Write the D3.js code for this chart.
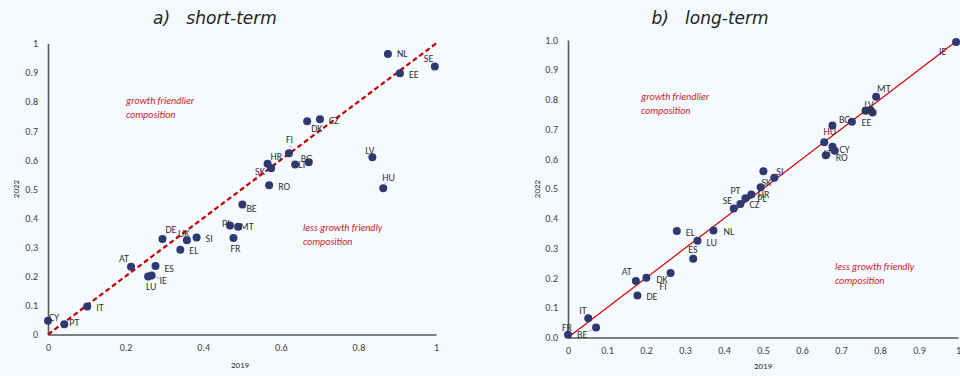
<!DOCTYPE html>
<html><head><meta charset="utf-8">
<script src="https://cdn.jsdelivr.net/npm/d3@7"></script>
<style>
html,body{margin:0;padding:0;background:#f5fafe;}
svg{display:block;}
.tick text{font-family:Carlito,"Liberation Sans Narrow","Liberation Sans",sans-serif;font-size:10px;fill:#404040;}
.lbl{font-family:Carlito,"Liberation Sans Narrow","Liberation Sans",sans-serif;font-size:10px;fill:#333;}
.note{font-family:Carlito,"Liberation Sans Narrow","Liberation Sans",sans-serif;font-size:10px;fill:#d0202a;font-style:italic;}
.ttl{font-family:"DejaVu Sans",sans-serif;font-size:17px;font-style:italic;fill:#222;font-weight:300;}
.axt{font-family:Carlito,"Liberation Sans Narrow","Liberation Sans",sans-serif;font-size:9px;fill:#333;}
</style></head>
<body>
<svg id="c" width="960" height="376"></svg>
<script>
// ---- data: a) short-term ----
const shortCountries = ["NL","SE","EE","CZ","DK","FI","HR","SK","LT","BG","RO","LV","HU","BE","PL","MT","FR","SI","UK","DE","EL","AT","ES","IE","LU","IT","CY","PT"];
const short2019 = [0.876,0.997,0.907,0.701,0.668,0.621,0.566,0.575,0.637,0.672,0.570,0.836,0.864,0.501,0.469,0.490,0.478,0.383,0.358,0.295,0.341,0.214,0.277,0.267,0.258,0.101,0.000,0.042];
const short2022 = [0.964,0.921,0.898,0.740,0.733,0.623,0.587,0.571,0.584,0.592,0.513,0.609,0.503,0.447,0.375,0.370,0.332,0.333,0.324,0.328,0.291,0.233,0.235,0.203,0.199,0.096,0.047,0.035];
// ---- data: b) long-term ----
const longCountries = ["IE","MT","LV","UK","EE","BG","HU","","LT","CY","RO","SI","SK","HR","PL","PT","SE","CZ","EL","LU","NL","ES","AT","DK","FI","DE","IT","FR","BE"];
const long2019 = [0.995,0.790,0.763,0.775,0.781,0.728,0.678,0.657,0.661,0.678,0.684,0.529,0.501,0.494,0.470,0.455,0.425,0.442,0.279,0.332,0.373,0.321,0.174,0.201,0.263,0.178,0.052,0.000,0.072];
const long2022 = [0.993,0.809,0.762,0.765,0.756,0.725,0.713,0.656,0.613,0.641,0.628,0.537,0.559,0.505,0.481,0.468,0.434,0.449,0.358,0.325,0.360,0.265,0.190,0.201,0.217,0.141,0.065,0.009,0.034];
// ---- tick labels ----
const shortXTicks = [0,0.2,0.4,0.6,0.8,1];
const shortYTicks = [0,0.1,0.2,0.3,0.4,0.5,0.6,0.7,0.8,0.9,1];
const longXTicks = [0,0.1,0.2,0.3,0.4,0.5,0.6,0.7,0.8,0.9,1];
const longYTicks = [0,0.1,0.2,0.3,0.4,0.5,0.6,0.7,0.8,0.9,1];
const titles = ["a)   short-term","b)   long-term"];
const notesUp = ["growth friendlier","composition"];
const notesDown = ["less growth friendly","composition"];

// ---- layout (label offsets in px: [dx to text start, dy to text middle]) ----
const shortLabelOff = {NL:[9,0],SE:[-11,-8],EE:[9,1],CZ:[9,1],DK:[4,7],FI:[-3,-14],HR:[3,-7],SK:[-16,3],LT:[3,0],BG:[-8,-4],RO:[9,1],LV:[-7,-7],HU:[-1,-11],BE:[4,4],PL:[-8,-2],MT:[2,0],FR:[-3,11],SI:[9,1],UK:[-9,-7],DE:[3,-10],EL:[9,1],AT:[-12,-8],ES:[9,2],IE:[8,5],LU:[-2,10],IT:[9,1],CY:[1,-3],PT:[5,-2]};
const longLabelOff = {IE:[-17,9],MT:[1,-8],LV:[-1,-6],UK:[-8,1],EE:[-11,10],BG:[-13,-2],HU:[-9,6],LT:[-2,-2],CY:[7,3],RO:[1,7],SI:[2,-6],SK:[-2,11],HR:[-3,7],PL:[6,4],PT:[-15,-8],SE:[-11,-8],CZ:[9,1],EL:[9,2],LU:[9,2],NL:[10,1],ES:[-5,-9],AT:[-14,-9],DK:[10,2],FI:[-11,14],DE:[9,1],IT:[-9,-8],FR:[-6,-7],BE:[-19,7]};
const shortLeaders = ["FI","DE","IE","HU"];
const longLeaders = ["IE","BE","HU"];
const fmt1 = d => String(+d.toFixed(1));

const svg = d3.select("#c");

function panel(cfg){
  const g = svg.append("g");
  const x = d3.scaleLinear().domain([0,1]).range(cfg.xr);
  const y = d3.scaleLinear().domain([0,1]).range(cfg.yr);
  const ax = g.append("g").attr("transform",`translate(0,${cfg.yr[0]})`)
    .call(d3.axisBottom(x).tickValues(cfg.xt).tickFormat(cfg.xf).tickSize(0).tickPadding(9));
  const ay = g.append("g").attr("transform",`translate(${cfg.xr[0]},0)`)
    .call(d3.axisLeft(y).tickValues(cfg.yt).tickFormat(cfg.yf).tickSize(0).tickPadding(10));
  [ax,ay].forEach(a=>a.select(".domain").attr("stroke","#595959").attr("stroke-width",1.6));
  g.append("line").attr("x1",x(0)).attr("y1",y(0)).attr("x2",x(1)).attr("y2",y(1))
    .attr("stroke",cfg.lineColor).attr("stroke-width",cfg.lineW).attr("stroke-dasharray",cfg.dash);
  const n1 = g.append("text").attr("class","note").attr("x",cfg.noteUp[0]).attr("y",cfg.noteUp[1]);
  notesUp.forEach((t,i)=>n1.append("tspan").attr("x",cfg.noteUp[0]).attr("dy",i?14:0).text(t));
  const n2 = g.append("text").attr("class","note").attr("x",cfg.noteDown[0]).attr("y",cfg.noteDown[1]);
  notesDown.forEach((t,i)=>n2.append("tspan").attr("x",cfg.noteDown[0]).attr("dy",i?14:0).text(t));
  g.append("text").attr("class","ttl").attr("x",cfg.title[0]).attr("y",cfg.title[1])
    .attr("text-anchor","middle").style("white-space","pre").text(cfg.titleText);
  g.append("text").attr("class","axt").attr("x",cfg.xTitle[0]).attr("y",cfg.xTitle[1]).attr("text-anchor","middle").text("2019");
  g.append("text").attr("class","axt").attr("transform",`translate(${cfg.yTitle[0]},${cfg.yTitle[1]}) rotate(-90)`).attr("text-anchor","middle").text("2022");
  const data = cfg.names.map((n,i)=>({n, a:cfg.xs[i], b:cfg.ys[i]}));
  // leader lines
  data.filter(d=>cfg.leaders.includes(d.n)).forEach(d=>{
    const o = cfg.off[d.n], cx = x(d.a), cy = y(d.b);
    const lx = cx+o[0]+6, ly = cy+o[1];
    const dist = Math.hypot(lx-cx, ly-cy); if(dist<11) return;
    const ux=(lx-cx)/dist, uy=(ly-cy)/dist;
    g.append("line").attr("x1",cx+ux*4.5).attr("y1",cy+uy*4.5).attr("x2",lx-ux*6).attr("y2",ly-uy*6)
      .attr("stroke","#a6a6a6").attr("stroke-width",0.8);
  });
  g.selectAll("circle").data(data).join("circle")
    .attr("cx",d=>x(d.a)).attr("cy",d=>y(d.b)).attr("r",4).attr("fill","#2f3870");
  g.selectAll("text.lbl").data(data.filter(d=>d.n)).join("text").attr("class","lbl")
    .attr("x",d=>x(d.a)+(cfg.off[d.n]||[6,0])[0])
    .attr("y",d=>y(d.b)+(cfg.off[d.n]||[6,0])[1]+3.5)
    .text(d=>d.n);
}

panel({names:shortCountries,xs:short2019,ys:short2022,xr:[48,436],yr:[334.5,43.5],
  xt:shortXTicks,yt:shortYTicks,xf:fmt1,yf:fmt1,lineColor:"#c00000",lineW:2.2,dash:"5,3",
  noteUp:[126,104],noteDown:[303,231],title:[215,24],titleText:titles[0],
  xTitle:[240,368],yTitle:[19,189],off:shortLabelOff,leaders:shortLeaders});
panel({names:longCountries,xs:long2019,ys:long2022,xr:[568,958],yr:[337.5,40],
  xt:longXTicks,yt:longYTicks,xf:fmt1,yf:d3.format(".1f"),lineColor:"#d00000",lineW:1.2,dash:null,
  noteUp:[641,100],noteDown:[835,270],title:[710,24],titleText:titles[1],
  xTitle:[763,369],yTitle:[540,189],off:longLabelOff,leaders:longLeaders});
</script>
</body></html>
